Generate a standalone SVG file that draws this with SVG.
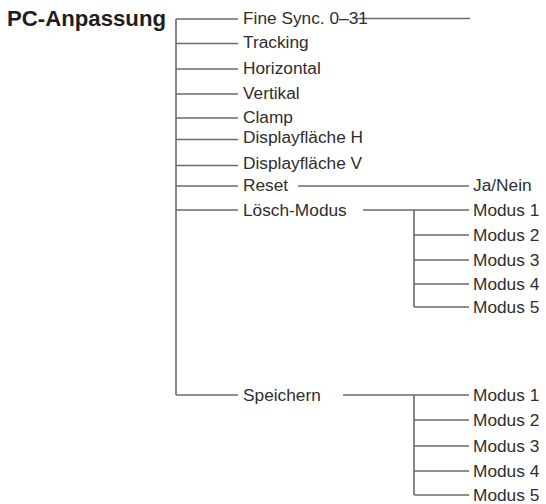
<svg xmlns="http://www.w3.org/2000/svg" width="546" height="504" viewBox="0 0 546 504">
<style>
.t{font-family:"Liberation Sans",Arial,sans-serif;font-size:17.3px;fill:#2e2e2e}
.title{font-family:"Liberation Sans",Arial,sans-serif;font-size:21.5px;font-weight:bold;fill:#1e1e1e}
.c line{stroke:#6a6a6a;stroke-width:1.6;fill:none}
</style>
<rect width="546" height="504" fill="#ffffff"/>
<g id="connectors" class="c">
<line x1="176" y1="19" x2="176" y2="395"/>
<line x1="176" y1="19" x2="238" y2="19"/>
<line x1="176" y1="43.5" x2="238" y2="43.5"/>
<line x1="176" y1="69" x2="238" y2="69"/>
<line x1="176" y1="94" x2="238" y2="94"/>
<line x1="176" y1="118" x2="238" y2="118"/>
<line x1="176" y1="139.5" x2="238" y2="139.5"/>
<line x1="176" y1="165.5" x2="238" y2="165.5"/>
<line x1="176" y1="186" x2="238" y2="186"/>
<line x1="176" y1="210" x2="238" y2="210"/>
<line x1="176" y1="395" x2="238" y2="395"/>
<line x1="357" y1="18.5" x2="470" y2="18.5"/>
<line x1="298" y1="186" x2="469" y2="186"/>
<line x1="363" y1="210" x2="469" y2="210"/>
<line x1="414" y1="210" x2="414" y2="307"/>
<line x1="414" y1="235" x2="469" y2="235"/>
<line x1="414" y1="260" x2="469" y2="260"/>
<line x1="414" y1="284" x2="469" y2="284"/>
<line x1="414" y1="307" x2="469" y2="307"/>
<line x1="343" y1="395" x2="469" y2="395"/>
<line x1="414" y1="395" x2="414" y2="495"/>
<line x1="414" y1="420" x2="469" y2="420"/>
<line x1="414" y1="446" x2="469" y2="446"/>
<line x1="414" y1="471" x2="469" y2="471"/>
<line x1="414" y1="495" x2="469" y2="495"/>
</g>
<g id="root"><text class="title" x="7" y="26" textLength="159" lengthAdjust="spacingAndGlyphs">PC-Anpassung</text></g>
<g id="fine-sync"><text class="t" x="243" y="23.5">Fine Sync. 0–31</text></g>
<g id="tracking"><text class="t" x="243" y="48">Tracking</text></g>
<g id="horizontal"><text class="t" x="243" y="74">Horizontal</text></g>
<g id="vertikal"><text class="t" x="243" y="99">Vertikal</text></g>
<g id="clamp"><text class="t" x="243" y="123">Clamp</text></g>
<g id="displayflaeche-h"><text class="t" x="243" y="142.5">Displayfläche H</text></g>
<g id="displayflaeche-v"><text class="t" x="243" y="168.5">Displayfläche V</text></g>
<g id="reset"><text class="t" x="243" y="190.5">Reset</text></g>
<g id="ja-nein"><text class="t" x="473" y="190.5">Ja/Nein</text></g>
<g id="loesch-modus"><text class="t" x="243" y="215.5">Lösch-Modus</text></g>
<g id="lm-1"><text class="t" x="473" y="215.5">Modus 1</text></g>
<g id="lm-2"><text class="t" x="473" y="240.5">Modus 2</text></g>
<g id="lm-3"><text class="t" x="473" y="265.5">Modus 3</text></g>
<g id="lm-4"><text class="t" x="473" y="289.5">Modus 4</text></g>
<g id="lm-5"><text class="t" x="473" y="312.5">Modus 5</text></g>
<g id="speichern"><text class="t" x="243" y="400.5">Speichern</text></g>
<g id="sp-1"><text class="t" x="473" y="400.5">Modus 1</text></g>
<g id="sp-2"><text class="t" x="473" y="425.5">Modus 2</text></g>
<g id="sp-3"><text class="t" x="473" y="451.5">Modus 3</text></g>
<g id="sp-4"><text class="t" x="473" y="476.5">Modus 4</text></g>
<g id="sp-5"><text class="t" x="473" y="500.5">Modus 5</text></g>
</svg>
